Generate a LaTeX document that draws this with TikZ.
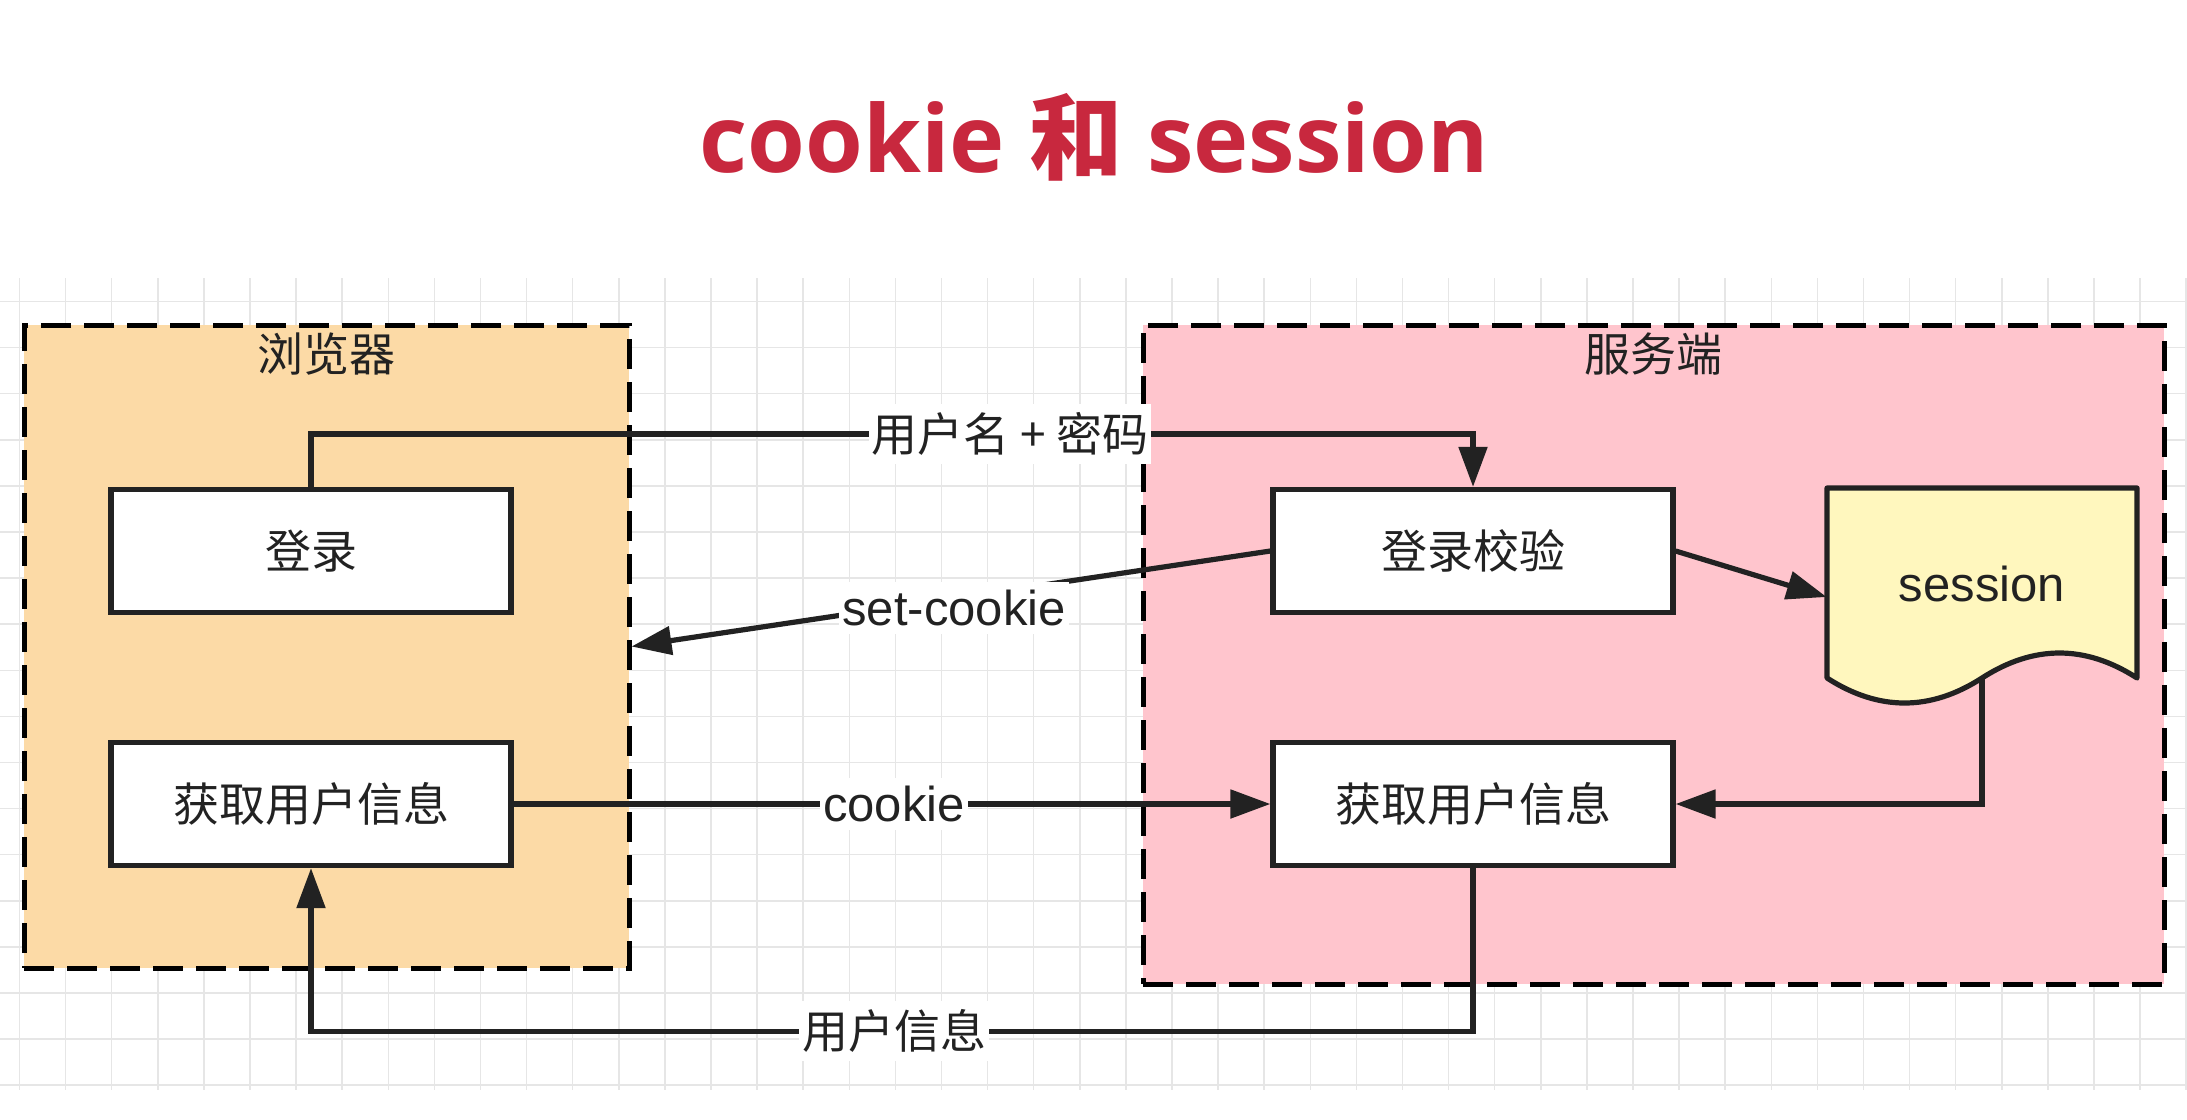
\documentclass[tikz,border=0pt]{standalone}
\usepackage{fontspec}
\setmainfont{Liberation Sans}
\newfontfamily\cjk{Noto Sans CJK SC}
\newfontfamily\titlefont{Open Sans}
\usetikzlibrary{arrows.meta}
\definecolor{ink}{HTML}{222222}
\definecolor{gridc}{HTML}{E6E6E6}
\definecolor{browserfill}{HTML}{FCDAA6}
\definecolor{serverfill}{HTML}{FFC5CD}
\definecolor{sessfill}{HTML}{FFF7BE}
\definecolor{titlered}{HTML}{C8283E}
\begin{document}
\begin{tikzpicture}[x=0.5pt,y=-0.5pt,
  gridline/.style={draw=gridc, line width=0.75pt},
  cont/.style={draw=black, line width=2.5pt, dash pattern=on 15pt off 6.5pt, inner sep=0pt},
  conttitle/.style={font=\fontsize{23}{27}\selectfont\cjk, text=ink, inner sep=0pt},
  box/.style={draw=ink, line width=2.6pt, fill=white, minimum width=200pt, minimum height=61.5pt, inner sep=0pt, font=\fontsize{23}{27}\selectfont\cjk, text=ink},
  sessbox/.style={minimum width=155pt, minimum height=109pt, inner sep=0pt},
  conn/.style={draw=ink, line width=2.6pt, -{Triangle[length=20pt,width=14pt]}},
  lab/.style={fill=white, inner xsep=1.5pt, inner ysep=4pt, font=\fontsize{24.5}{28}\selectfont, text=ink},
  cjklab/.style={lab, font=\fontsize{23}{27}\selectfont\cjk},
]
\useasboundingbox (0,0) rectangle (2187,1119);
\fill[white] (0,0) rectangle (2187,1119);
% grid
\foreach \k in {0,...,47} \draw[gridline] ({19.5+46.1*\k},278) -- ({19.5+46.1*\k},1090);
\foreach \k in {0,...,17} \draw[gridline] (0,{301.5+46.1*\k}) -- (2187,{301.5+46.1*\k});
% title
\node[font=\titlefont\bfseries\fontsize{46.7}{56}\selectfont, text=titlered, anchor=base, inner sep=0pt] (title) at (1094.5,172) {cookie {\cjk\bfseries 和} session};
% containers
\node[cont, fill=browserfill, minimum width=302.5pt, minimum height=321.5pt] (browser) at (326.5,646.5) {};
\node[cont, fill=serverfill, minimum width=510.5pt, minimum height=329.5pt] (server) at (1653.5,654.5) {};
\node[conttitle] (btitle) at (326.5,354) {浏览器};
\node[conttitle] (stitle) at (1653.5,354) {服务端};
% boxes
\node[box] (login) at (311,551) {登录};
\node[box] (gl) at (311,804) {获取用户信息};
\node[box] (check) at (1473,551) {登录校验};
\node[box] (gr) at (1473,804) {获取用户信息};
% session document shape
\draw[ink, line width=2.6pt, fill=sessfill, line join=round] (1827,488) -- (2137,488) -- (2137,678)
  .. controls (2085.33,644.67) and (2033.67,644.67) .. (1982,678)
  .. controls (1930.33,711.33) and (1878.67,711.33) .. (1827,678) -- cycle;
\node[sessbox] (sess) at (1982,597) {};
\node[font=\fontsize{24.5}{28}\selectfont, text=ink, inner sep=0pt] (sesstext) at (1982,584) {session};
\coordinate (sessbot) at (1982,678);
% connectors
\draw[conn] (login.north) -- ++(0,-53) -| (check.north);
\draw[conn] (check.west) -- (browser.east);
\draw[conn] (gl.east) -- (gr.west);
\draw[conn] (gr.south) -- ++(0,163) -| (gl.south);
\draw[conn] (check.east) -- (sess.west);
\draw[conn] (sessbot) |- (gr.east);
% labels
\node[cjklab] (l1) at (1010,434) {用户名 + 密码};
\node[lab] (l2) at (954,608) {set-cookie};
\node[lab] (l3) at (894,804) {cookie};
\node[cjklab] (l4) at (894,1031) {用户信息};
\end{tikzpicture}
\end{document}
